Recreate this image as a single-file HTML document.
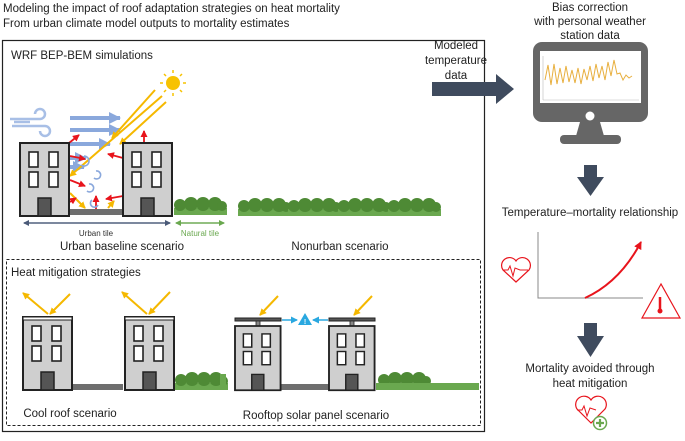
<!DOCTYPE html>
<html><head><meta charset="utf-8"><style>
body{margin:0;background:#fff;width:685px;height:436px;overflow:hidden;font-family:"Liberation Sans",sans-serif}
</style></head><body>
<svg width="685" height="436" viewBox="0 0 685 436" xmlns="http://www.w3.org/2000/svg" font-family="Liberation Sans, sans-serif">
<defs>
<marker id="ry" markerUnits="userSpaceOnUse" markerWidth="7" markerHeight="7" refX="6" refY="3.5" orient="auto"><path d="M0,0L7,3.5L0,7z" fill="#f5b800"/></marker>
<marker id="rr" markerUnits="userSpaceOnUse" markerWidth="7" markerHeight="7" refX="6" refY="3.5" orient="auto"><path d="M0,0L7,3.5L0,7z" fill="#e8141c"/></marker>
<marker id="rb" markerUnits="userSpaceOnUse" markerWidth="12" markerHeight="12" refX="11" refY="6" orient="auto"><path d="M0,0L12,6L0,12z" fill="#8aa8dc"/></marker>
<marker id="rc" markerUnits="userSpaceOnUse" markerWidth="7" markerHeight="7" refX="6" refY="3.5" orient="auto"><path d="M0,0L7,3.5L0,7z" fill="#2aa8e0"/></marker>
<marker id="rn" markerUnits="userSpaceOnUse" markerWidth="6" markerHeight="6" refX="5" refY="3" orient="auto"><path d="M0,0L6,3L0,6z" fill="#4a5a78"/></marker>
<marker id="rg" markerUnits="userSpaceOnUse" markerWidth="6" markerHeight="6" refX="5" refY="3" orient="auto"><path d="M0,0L6,3L0,6z" fill="#6aa84f"/></marker>
<marker id="rd" markerUnits="userSpaceOnUse" markerWidth="8" markerHeight="8" refX="7" refY="4" orient="auto"><path d="M0,0L8,4L0,8z" fill="#e8141c"/></marker>
<g id="bld">
<rect x="0" y="0" width="49" height="73" fill="#cfcfcf" stroke="#222" stroke-width="2"/>
<rect x="9" y="9" width="9" height="15" fill="#fff" stroke="#222" stroke-width="1.6"/>
<rect x="29" y="9" width="9" height="15" fill="#fff" stroke="#222" stroke-width="1.6"/>
<rect x="9" y="29" width="9" height="15" fill="#fff" stroke="#222" stroke-width="1.6"/>
<rect x="29" y="29" width="9" height="15" fill="#fff" stroke="#222" stroke-width="1.6"/>
<rect x="18" y="55" width="13" height="18" fill="#555" stroke="#222" stroke-width="1.5"/>
</g>
<g id="hedge">
<rect x="0" y="12" width="53" height="7" fill="#6aa84f"/>
<circle cx="6" cy="9" r="6" fill="#4e8a35"/><circle cx="17" cy="8" r="7" fill="#4e8a35"/><circle cx="29" cy="8" r="7" fill="#4e8a35"/><circle cx="41" cy="8" r="7" fill="#4e8a35"/><circle cx="48" cy="10" r="5" fill="#4e8a35"/>
</g>
</defs>
<text x="3" y="12" font-size="11.5" fill="#222">Modeling the impact of roof adaptation strategies on heat mortality</text>
<text x="3" y="27" font-size="11.5" fill="#222">From urban climate model outputs to mortality estimates</text>
<rect x="2.5" y="40.5" width="482" height="391" fill="none" stroke="#222" stroke-width="1.2"/>
<text x="11" y="59" font-size="11.5" fill="#222">WRF BEP-BEM simulations</text>
<circle cx="173" cy="83" r="7" fill="#f7c200"/>
<g stroke="#f7c200" stroke-width="1.5"><line x1="173" y1="70" x2="173" y2="73"/><line x1="173" y1="93" x2="173" y2="96"/><line x1="160" y1="83" x2="163" y2="83"/><line x1="183" y1="83" x2="186" y2="83"/><line x1="164" y1="74" x2="166" y2="76"/><line x1="180" y1="90" x2="182" y2="92"/><line x1="182" y1="74" x2="180" y2="76"/><line x1="164" y1="92" x2="166" y2="90"/></g>
<polygon points="125,143 143,143 123,190" fill="#eeeeee"/>
<g stroke="#a8bfe6" stroke-width="2.5" fill="none"><path d="M10 119 H40 a5 5 0 1 0 -5 -5"/><path d="M12 126 H45 a5 5 0 1 1 -5 5"/><line x1="14" y1="122" x2="30" y2="122"/></g>
<g stroke="#8aa8dc" stroke-width="4" marker-end="url(#rb)"><line x1="70" y1="118" x2="120" y2="118"/><line x1="70" y1="130" x2="120" y2="130"/><line x1="70" y1="144" x2="110" y2="144"/><line x1="70" y1="158" x2="86" y2="158"/><line x1="70" y1="167" x2="84" y2="167"/></g>
<g stroke="#f5b800" stroke-width="2" marker-end="url(#ry)"><line x1="155" y1="90" x2="112" y2="138"/><line x1="162" y1="96" x2="70" y2="176"/><line x1="166" y1="102" x2="120" y2="144"/><line x1="70" y1="193" x2="85" y2="208"/><line x1="108" y1="208" x2="114" y2="201"/></g>
<g stroke="#e8141c" stroke-width="1.8" marker-end="url(#rr)"><line x1="69" y1="143" x2="79" y2="135"/><line x1="144" y1="143" x2="144" y2="131"/><line x1="70" y1="156" x2="85" y2="159"/><line x1="123" y1="158" x2="108" y2="154"/><line x1="70" y1="180" x2="85" y2="186"/><line x1="123" y1="196" x2="106" y2="199"/><line x1="96" y1="211" x2="96" y2="196"/><line x1="70" y1="202" x2="76" y2="198"/></g>
<g stroke="#8aa8dc" stroke-width="1.6" fill="none"><path d="M84 156 a5 5 0 1 1 -3 9"/><path d="M96 171 a4 4 0 1 1 -2 7"/><path d="M89 184 a4 4 0 1 1 -2 7"/><path d="M92 200 a4 4 0 1 0 6 5"/></g>
<rect x="69" y="209" width="54" height="6" fill="#6e6e6e"/>
<use href="#bld" x="20" y="143"/><use href="#bld" x="123" y="143"/>
<use href="#hedge" x="174" y="196"/>
<use href="#hedge" x="238" y="197"/><use href="#hedge" x="288" y="197"/><use href="#hedge" x="338" y="197"/><use href="#hedge" x="388" y="197"/>
<line x1="24" y1="223" x2="170" y2="223" stroke="#4a5a78" stroke-width="1.2" marker-end="url(#rn)"/>
<line x1="170" y1="223" x2="24" y2="223" stroke="#4a5a78" stroke-width="1.2" marker-end="url(#rn)"/>
<line x1="176" y1="223" x2="224" y2="223" stroke="#6aa84f" stroke-width="1.2" marker-end="url(#rg)"/>
<line x1="224" y1="223" x2="176" y2="223" stroke="#6aa84f" stroke-width="1.2" marker-end="url(#rg)"/>
<text x="96" y="236" font-size="8" fill="#333" text-anchor="middle">Urban tile</text>
<text x="200" y="236" font-size="8" fill="#6aa84f" text-anchor="middle">Natural tile</text>
<text x="122" y="250" font-size="11.5" fill="#222" text-anchor="middle">Urban baseline scenario</text>
<text x="340" y="250" font-size="11.5" fill="#222" text-anchor="middle">Nonurban scenario</text>
<rect x="6.5" y="259.5" width="474" height="166" fill="none" stroke="#222" stroke-width="1" stroke-dasharray="3,2"/>
<text x="11" y="276" font-size="11.5" fill="#222">Heat mitigation strategies</text>
<g stroke="#f5b800" stroke-width="2" marker-end="url(#ry)"><line x1="70" y1="294" x2="50" y2="314"/><line x1="48" y1="314" x2="23" y2="293"/><line x1="170" y1="292" x2="149" y2="314"/><line x1="147" y1="314" x2="122" y2="292"/></g>
<rect x="69" y="384" width="54" height="6" fill="#6e6e6e"/>
<use href="#bld" x="23" y="317"/><use href="#bld" x="125" y="317"/>
<rect x="23" y="317" width="49" height="3" fill="#fff" stroke="#222" stroke-width="1"/>
<rect x="125" y="317" width="49" height="3" fill="#fff" stroke="#222" stroke-width="1"/>
<use href="#hedge" x="175" y="371"/>
<text x="70" y="417" font-size="11.5" fill="#222" text-anchor="middle">Cool roof scenario</text>
<g stroke="#f5b800" stroke-width="2" marker-end="url(#ry)"><line x1="278" y1="296" x2="260" y2="315"/><line x1="372" y1="296" x2="354" y2="315"/></g>
<rect x="281" y="384" width="48" height="6" fill="#6e6e6e"/>
<rect x="235" y="318" width="46" height="3" fill="#555" stroke="#222" stroke-width="1"/><rect x="256" y="321" width="4" height="5" fill="#888" stroke="#222" stroke-width="0.8"/>
<rect x="329" y="318" width="46" height="3" fill="#555" stroke="#222" stroke-width="1"/><rect x="350" y="321" width="4" height="5" fill="#888" stroke="#222" stroke-width="0.8"/>
<use href="#bld" x="235" y="326" transform="translate(235 326) scale(0.93 0.88) translate(-235 -326)"/>
<use href="#bld" x="329" y="326" transform="translate(329 326) scale(0.93 0.88) translate(-329 -326)"/>
<use href="#hedge" x="378" y="371"/><rect x="376" y="383" width="103" height="7" fill="#6aa84f"/>
<polygon points="220,374 226,374 226,388 220,388" fill="#6aa84f"/>
<line x1="282" y1="320" x2="297" y2="320" stroke="#2aa8e0" stroke-width="1.5" marker-end="url(#rc)"/>
<line x1="328" y1="320" x2="313" y2="320" stroke="#2aa8e0" stroke-width="1.5" marker-end="url(#rc)"/>
<polygon points="305,313 298,325 312,325" fill="#2aa8e0"/><text x="305" y="324" font-size="7" font-weight="bold" fill="#fff" text-anchor="middle">!</text>
<text x="316" y="419" font-size="11.5" fill="#222" text-anchor="middle">Rooftop solar panel scenario</text>
<text x="456" y="49" font-size="11.5" fill="#222" text-anchor="middle">Modeled</text>
<text x="456" y="64" font-size="11.5" fill="#222" text-anchor="middle">temperature</text>
<text x="456" y="79" font-size="11.5" fill="#222" text-anchor="middle">data</text>
<polygon points="432,82 496,82 496,74 514,89 496,104 496,96 432,96" fill="#3f4b5e"/>
<text x="590" y="11" font-size="11.5" fill="#222" text-anchor="middle">Bias correction</text>
<text x="590" y="25" font-size="11.5" fill="#222" text-anchor="middle">with personal weather</text>
<text x="590" y="39" font-size="11.5" fill="#222" text-anchor="middle">station data</text>
<rect x="533" y="42" width="115" height="80" rx="9" fill="#666"/>
<rect x="540" y="51" width="101" height="52" fill="#fff"/>
<polyline points="545,80 548,65 551,85 554,64 557,84 560,68 563,83 566,66 569,82 572,70 575,83 578,68 581,84 584,69 587,80 590,66 593,81 596,64 599,78 602,66 605,80 608,62 611,76 614,60 617,74 620,73 623,80 626,75 629,78 632,76" fill="none" stroke="#e8b040" stroke-width="1"/>
<line x1="543" y1="100" x2="639" y2="100" stroke="#bbb" stroke-width="0.6"/><line x1="543" y1="56" x2="543" y2="100" stroke="#bbb" stroke-width="0.6"/>
<circle cx="590" cy="116" r="4.5" fill="#fff"/>
<polygon points="580,122 600,122 604,136 576,136" fill="#666"/>
<rect x="560" y="135" width="61" height="9" rx="4" fill="#666"/>
<polygon points="584,165 597,165 597,177 604,177 590.5,196 577,177 584,177" fill="#3f4b5e"/>
<text x="590" y="216" font-size="11.5" fill="#222" text-anchor="middle">Temperature–mortality relationship</text>
<polyline points="538,232 538,298 643,298" fill="none" stroke="#888" stroke-width="1"/>
<path d="M585 298 Q620 282 641 242" fill="none" stroke="#e8141c" stroke-width="2" marker-end="url(#rd)"/>
<path d="M516 282 L503 270 a7 7 0 0 1 13 -9 a7 7 0 0 1 13 9 z" fill="none" stroke="#e8141c" stroke-width="1.2"/>
<polyline points="503,270 508,270 510,266 513,276 515,268 520,270 528,270" fill="none" stroke="#e8141c" stroke-width="1"/>
<polygon points="661,284 642,318 680,318" fill="none" stroke="#e8141c" stroke-width="1.2"/>
<line x1="660" y1="297" x2="660" y2="310" stroke="#e8141c" stroke-width="2.5"/><circle cx="660" cy="311" r="2.5" fill="#e8141c"/>
<polygon points="584,323 597,323 597,336 604,336 590.5,357 577,336 584,336" fill="#3f4b5e"/>
<text x="590" y="372" font-size="11.5" fill="#222" text-anchor="middle">Mortality avoided through</text>
<text x="590" y="387" font-size="11.5" fill="#222" text-anchor="middle">heat mitigation</text>
<path d="M591 423 L577 409 a7 7 0 0 1 14 -9 a7 7 0 0 1 14 9 z" fill="none" stroke="#e8141c" stroke-width="1.2"/>
<polyline points="577,410 582,410 584,406 587,416 590,408 596,410" fill="none" stroke="#e8141c" stroke-width="1"/>
<circle cx="600" cy="423" r="6.5" fill="#fff" stroke="#6aa84f" stroke-width="1.5"/>
<path d="M600 419 V427 M596 423 H604" stroke="#6aa84f" stroke-width="2.2"/>
</svg>
</body></html>
